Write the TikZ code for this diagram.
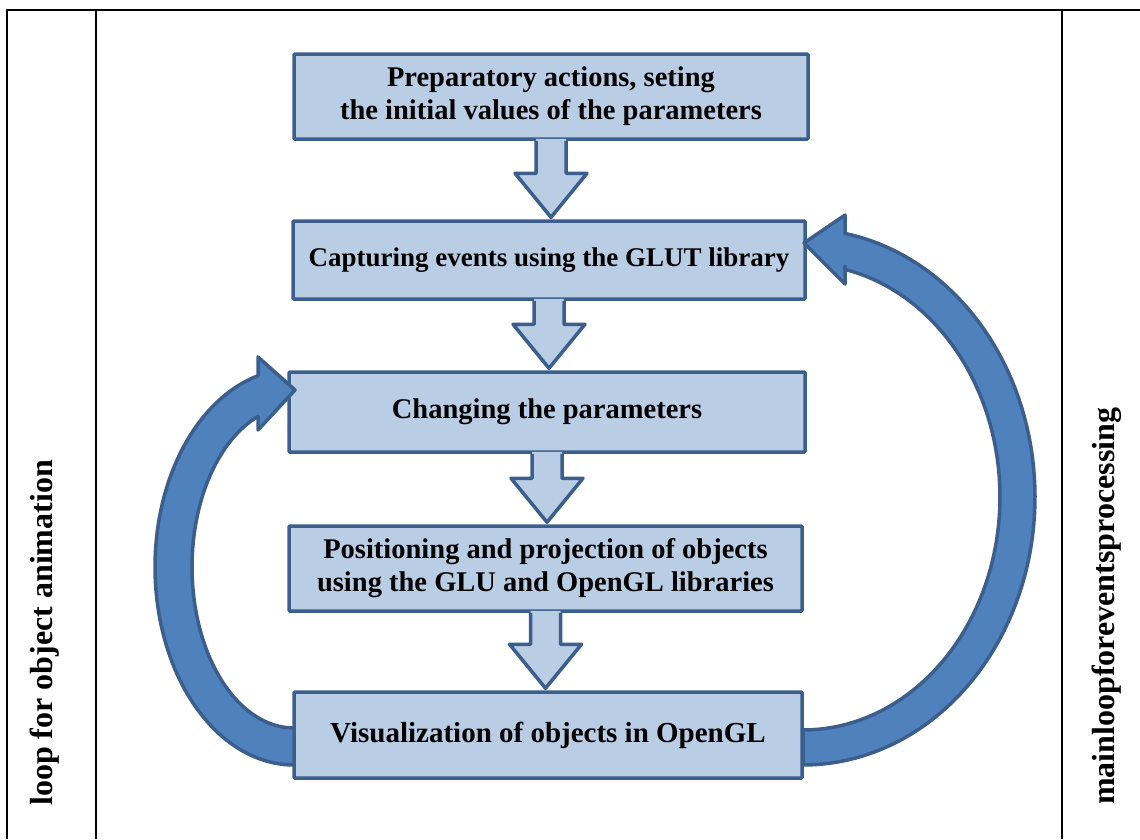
\documentclass[tikz,border=0pt]{standalone}
\usepackage{fontspec}
\setmainfont{Liberation Serif}
\usetikzlibrary{calc}
\definecolor{boxfill}{HTML}{B9CDE5}
\definecolor{boxline}{HTML}{3B5E8C}
\definecolor{arcfill}{HTML}{4F81BD}
\newcommand\dnarrow[2]{%
  \fill[boxfill] let \p1=(#1.south), \p2=(#2.north) in
    (\x1-15pt,\y1+2pt) -- (\x1-15pt,\y2+46pt) -- (\x1-36pt,\y2+46pt) -- (\x1,\y2+2pt)
      -- (\x1+36pt,\y2+46pt) -- (\x1+15pt,\y2+46pt) -- (\x1+15pt,\y1+2pt) -- cycle;
  \draw[boxline, line width=3.5pt, line join=round] let \p1=(#1.south), \p2=(#2.north) in
    (\x1-15pt,\y1) -- (\x1-15pt,\y2+46pt) -- (\x1-36pt,\y2+46pt) -- (\x1,\y2+2pt)
      -- (\x1+36pt,\y2+46pt) -- (\x1+15pt,\y2+46pt) -- (\x1+15pt,\y1);}
\begin{document}
\begin{tikzpicture}[x=1pt,y=-1pt,
  stepbox/.style={draw=boxline, fill=boxfill, line width=3.5pt, rounded corners=1pt,
    inner sep=0pt, align=center, font=\fontsize{28.5}{33}\selectfont\bfseries},
  sidetext/.style={font=\fontsize{32}{38}\selectfont\bfseries, inner sep=0pt, rotate=90, anchor=base west},
  tableline/.style={line width=2.5pt, black},
  curvearrow/.style={fill=arcfill, draw=boxline, line width=3.5pt, line join=round}]
\useasboundingbox (0,0) rectangle (1140,839);
\fill[white] (0,0) rectangle (1140,839);
% table
\draw[tableline] (7,839) -- (7,10) -- (1140,10);
\draw[tableline] (96,10) -- (96,839);
\draw[tableline] (1062,10) -- (1062,839);
\node[sidetext] (lt) at (52,806) {loop for object animation};
\node[sidetext] (rt) at (1114,805) {mainloopforeventsprocessing};
% boxes
\node[stepbox, minimum width=514pt, minimum height=85pt] (b1) at (551,96.5)
  {Preparatory actions, seting\\the initial values of the parameters};
\node[stepbox, minimum width=512pt, minimum height=78pt, font=\fontsize{27}{33}\selectfont\bfseries] (b2) at (549,260)
  {Capturing events using the GLUT library\vphantom{$\big($}};
\node[stepbox, minimum width=516pt, minimum height=80pt] (b3) at (547,412)
  {Changing the parameters};
\node[stepbox, minimum width=513pt, minimum height=85pt] (b4) at (545.5,568.5)
  {Positioning and projection of objects\\using the GLU and OpenGL libraries};
\node[stepbox, minimum width=508pt, minimum height=86pt, font=\fontsize{29}{33}\selectfont\bfseries] (b5) at (548,735)
  {Visualization of objects in OpenGL};
% straight arrows
\dnarrow{b1}{b2}
\dnarrow{b2}{b3}
\dnarrow{b3}{b4}
\dnarrow{b4}{b5}
% right curved arrow (b5 -> b2)
\draw[curvearrow] (845,266) -- (845,284) -- (804,243) -- (845,215) -- (845,233)
  -- plot[domain=-79.6:90, samples=80, variable=\t] ({803+232*cos(\t)},{497+268*sin(\t)})
  -- (803,730)
  -- plot[domain=90:-77.7, samples=80, variable=\t] ({803+197*cos(\t)},{497+233*sin(\t)})
  -- cycle;
% left curved arrow (b5 -> b3)
\draw[curvearrow] (294,765)
  -- plot[domain=90:255, samples=80, variable=\t] ({294+139*cos(\t)},{567+198*sin(\t)})
  -- (258,357) -- (295,390) -- (258,430) -- (258,416.4)
  -- plot[domain=249.3:90, samples=80, variable=\t] ({294+102*cos(\t)},{567+161*sin(\t)})
  -- cycle;
\end{tikzpicture}
\end{document}
